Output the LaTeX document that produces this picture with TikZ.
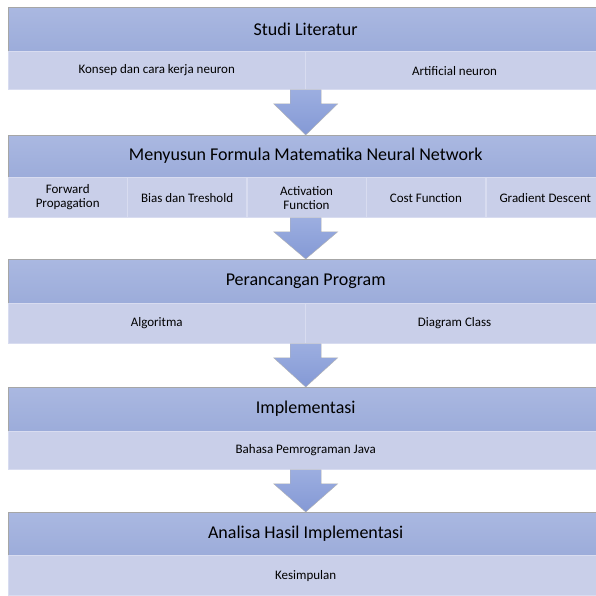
\documentclass[tikz,border=0pt]{standalone}
\usepackage{fontspec}
\setmainfont{Carlito}
\usetikzlibrary{calc,positioning}
\definecolor{hdrtop}{HTML}{AAB8E1}
\definecolor{hdrbot}{HTML}{9CACDA}
\definecolor{subfill}{HTML}{C9CFE9}
\definecolor{subline}{HTML}{D8DCF0}
\definecolor{arrtop}{HTML}{9CAEE0}
\definecolor{arrbot}{HTML}{8499D5}
\tikzstyle{hdr}=[shape=rectangle, draw=gray!70, top color=hdrtop, bottom color=hdrbot, minimum width=595pt, minimum height=44pt, inner sep=0pt, anchor=north west, font=\fontsize{18}{22}\selectfont]
\tikzstyle{sub}=[shape=rectangle, draw=subline, fill=subfill, minimum height=40pt, inner sep=0pt, align=center, font=\fontsize{13}{14}\selectfont]
\tikzstyle{blk}=[draw=gray!60, top color=arrtop, bottom color=arrbot]

% block arrow from below a section to the top of the next header
\newcommand{\flowarrow}[3]{%
  \coordinate (fa) at (#1.center |- #2.south);
  \coordinate (fb) at (#3.north);
  \draw[blk] ($(fa)+(-15.5,0)$) -- ($(fa)+(15.5,0)$) -- ($(fa)+(15.5,-14)$) -- ($(fa)+(32,-14)$)
    -- (fb) -- ($(fa)+(-32,-14)$) -- ($(fa)+(-15.5,-14)$) -- cycle;}

\begin{document}
\begin{tikzpicture}[x=1pt,y=1pt,node distance=0pt]
\useasboundingbox (0,0) rectangle (596,596);
\clip (0,0) rectangle (596,596);
\fill[white] (0,0) rectangle (596,596);

% studi literatur
\node (h1) [hdr] at (8,589) {Studi Literatur};
\node (s1a) [sub, anchor=north west, minimum width=297pt, minimum height=38pt] at (h1.south west) {Konsep dan cara kerja neuron};
\node (s1b) [sub, right=of s1a, minimum width=298pt, minimum height=38pt] {Artificial neuron};

% formula
\node (h2) [hdr, minimum height=42pt] at (8,461) {Menyusun Formula Matematika Neural Network};
\node (s2a) [sub, anchor=north west, minimum width=119pt] at (h2.south west) {Forward\\Propagation};
\node (s2b) [sub, right=of s2a, minimum width=119pt] {Bias dan Treshold};
\node (s2c) [sub, right=of s2b, minimum width=119pt] {Activation\\Function};
\node (s2d) [sub, right=of s2c, minimum width=119pt] {Cost Function};
\node (s2e) [sub, right=of s2d, minimum width=119pt] {Gradient Descent};

% perancangan
\node (h3) [hdr] at (8,337) {Perancangan Program};
\node (s3a) [sub, anchor=north west, minimum width=297pt] at (h3.south west) {Algoritma};
\node (s3b) [sub, right=of s3a, minimum width=298pt] {Diagram Class};

% implementasi
\node (h4) [hdr] at (8,209) {Implementasi};
\node (s4a) [sub, anchor=north west, minimum width=595pt, minimum height=38pt] at (h4.south west) {Bahasa Pemrograman Java};

% analisa
\node (h5) [hdr, minimum height=43pt] at (8,84) {Analisa Hasil Implementasi};
\node (s5a) [sub, anchor=north west, minimum width=595pt] at (h5.south west) {Kesimpulan};

\flowarrow{h1}{s1a}{h2}
\flowarrow{h2}{s2a}{h3}
\flowarrow{h3}{s3a}{h4}
\flowarrow{h4}{s4a}{h5}

\end{tikzpicture}
\end{document}
